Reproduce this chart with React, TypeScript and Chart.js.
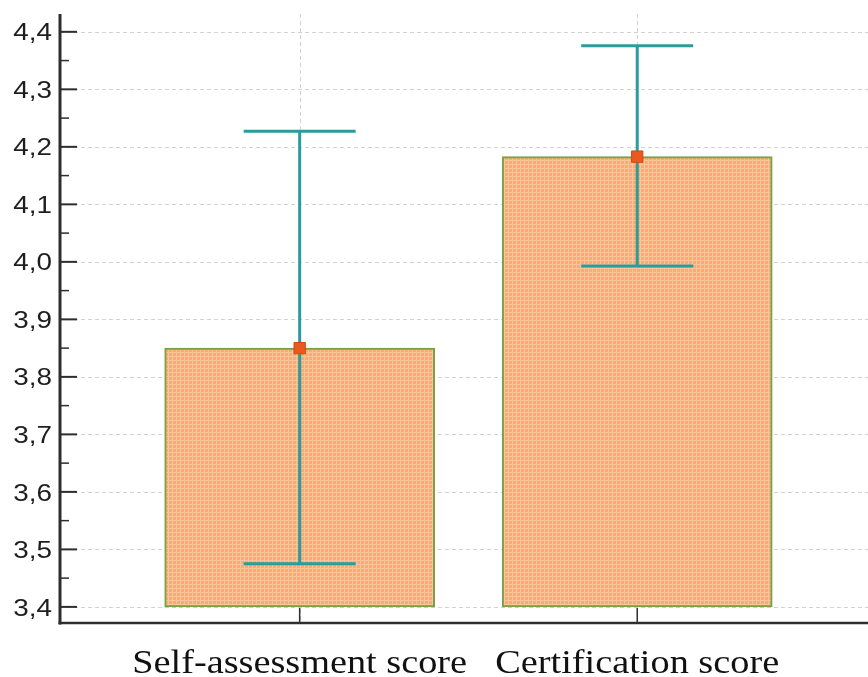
import { useEffect, useRef } from 'react';
import { Chart, registerables } from 'chart.js';

Chart.register(...registerables);

// Categories and their positions on the x scale
const categories = ['Self-assessment score', 'Certification score'];
const positions = [1, 2];

// Mean score, and upper / lower limits of the interval
const means = [3.85, 4.183];
const upper = [4.227, 4.376];
const lower = [3.475, 3.993];

// Bars rise from this baseline
const barBase = 3.4;

// Axis ranges and ticks
const xRange = [0.29, 2.657];
const yRange = [3.372, 4.431];
const yTicks = [3.4, 3.5, 3.6, 3.7, 3.8, 3.9, 4.0, 4.1, 4.2, 4.3, 4.4];
const yMinorTicks = [3.45, 3.55, 3.65, 3.75, 3.85, 3.95, 4.05, 4.15, 4.25, 4.35];

const AXIS = '#2e2e2e';
const GRID = '#d2d2d2';
const TEAL = '#2b9c9c';
const TEXT_STRETCH = 1.16;

function makePattern(): CanvasPattern | string {
  const c = document.createElement('canvas');
  c.width = 4;
  c.height = 4;
  const g = c.getContext('2d');
  if (!g) return '#f9b07e';
  g.fillStyle = '#f8ab75';
  g.fillRect(0, 0, 4, 4);
  g.fillStyle = '#fcc49a';
  g.fillRect(0, 0, 4, 1);
  g.fillRect(0, 0, 1, 4);
  return g.createPattern(c, 'repeat') || '#f9b07e';
}

function stretchedText(
  ctx: CanvasRenderingContext2D,
  text: string,
  x: number,
  y: number,
  align: CanvasTextAlign,
  baseline: CanvasTextBaseline
) {
  ctx.save();
  ctx.translate(x, y);
  ctx.scale(TEXT_STRETCH, 1);
  ctx.textAlign = align;
  ctx.textBaseline = baseline;
  ctx.fillText(text, 0, 0);
  ctx.restore();
}

const framePlugin = {
  id: 'frame',
  beforeDatasetsDraw(chart: any) {
    const { ctx, chartArea: a, scales } = chart;
    const xs = scales.x;
    const ys = scales.y;
    ctx.save();
    ctx.strokeStyle = GRID;
    ctx.lineWidth = 1;
    ctx.setLineDash([4, 3]);
    yTicks.forEach((v) => {
      const y = Math.round(ys.getPixelForValue(v)) + 0.5;
      ctx.beginPath();
      ctx.moveTo(a.left, y);
      ctx.lineTo(chart.width, y);
      ctx.stroke();
    });
    positions.forEach((p) => {
      const x = Math.round(xs.getPixelForValue(p)) + 0.5;
      ctx.beginPath();
      ctx.moveTo(x, a.top);
      ctx.lineTo(x, a.bottom);
      ctx.stroke();
    });
    ctx.restore();
  },
  afterDatasetDraw(chart: any, args: any) {
    if (args.index !== 0) return;
    const { ctx, scales } = chart;
    const xs = scales.x;
    const ys = scales.y;
    ctx.save();
    ctx.strokeStyle = TEAL;
    ctx.lineWidth = 3;
    positions.forEach((p, i) => {
      const x = xs.getPixelForValue(p);
      const yT = ys.getPixelForValue(upper[i]);
      const yB = ys.getPixelForValue(lower[i]);
      const cap = 56;
      ctx.beginPath();
      ctx.moveTo(x, yT);
      ctx.lineTo(x, yB);
      ctx.moveTo(x - cap, yT);
      ctx.lineTo(x + cap, yT);
      ctx.moveTo(x - cap, yB);
      ctx.lineTo(x + cap, yB);
      ctx.stroke();
    });
    ctx.restore();
  },
  afterDraw(chart: any) {
    const { ctx, chartArea: a, scales } = chart;
    const xs = scales.x;
    const ys = scales.y;
    ctx.save();
    ctx.strokeStyle = AXIS;
    ctx.fillStyle = AXIS;

    // axis lines
    ctx.lineWidth = 3;
    ctx.beginPath();
    ctx.moveTo(a.left, a.top);
    ctx.lineTo(a.left, a.bottom + 1.5);
    ctx.stroke();
    ctx.lineWidth = 2.5;
    ctx.beginPath();
    ctx.moveTo(a.left - 1.5, a.bottom);
    ctx.lineTo(chart.width, a.bottom);
    ctx.stroke();

    // y ticks, major and minor, pointing inward
    ctx.lineWidth = 2;
    yTicks.forEach((v) => {
      const y = ys.getPixelForValue(v);
      ctx.beginPath();
      ctx.moveTo(a.left, y);
      ctx.lineTo(a.left + 17, y);
      ctx.stroke();
    });
    ctx.lineWidth = 1.5;
    yMinorTicks.forEach((v) => {
      const y = ys.getPixelForValue(v);
      ctx.beginPath();
      ctx.moveTo(a.left, y);
      ctx.lineTo(a.left + 9, y);
      ctx.stroke();
    });

    // x ticks pointing inward
    ctx.lineWidth = 1.5;
    positions.forEach((p) => {
      const x = xs.getPixelForValue(p);
      ctx.beginPath();
      ctx.moveTo(x, a.bottom);
      ctx.lineTo(x, a.bottom - 15);
      ctx.stroke();
    });

    // y labels
    ctx.fillStyle = '#1e1e1e';
    ctx.font = '24px "Liberation Sans", Arial, sans-serif';
    yTicks.forEach((v) => {
      const y = ys.getPixelForValue(v);
      stretchedText(ctx, v.toFixed(1).replace('.', ','), a.left - 8, y + 2, 'right', 'middle');
    });

    // x labels
    ctx.fillStyle = '#111111';
    ctx.font = '33px "Liberation Serif", "Times New Roman", serif';
    positions.forEach((p, i) => {
      const x = xs.getPixelForValue(p);
      stretchedText(ctx, categories[i], x, a.bottom + 50, 'center', 'alphabetic');
    });
    ctx.restore();
  },
};

export default function App() {
  const canvasRef = useRef<HTMLCanvasElement | null>(null);

  useEffect(() => {
    document.body.style.margin = '0';
    const canvas = canvasRef.current;
    if (!canvas) return;
    const pattern = makePattern();

    const chart = new Chart(canvas, {
      type: 'bar',
      data: {
        datasets: [
          {
            type: 'bar',
            data: positions.map((x, i) => ({ x, y: [barBase, means[i]] })) as any,
            backgroundColor: pattern as any,
            borderColor: '#78a046',
            borderWidth: 2,
            borderSkipped: false,
            barThickness: 270,
            order: 2,
          },
          {
            type: 'scatter',
            data: positions.map((x, i) => ({ x, y: means[i] })),
            pointStyle: 'rect',
            pointRadius: 8,
            backgroundColor: '#ea5a1e',
            borderColor: '#cf4a12',
            borderWidth: 1,
            order: 1,
          } as any,
        ],
      },
      options: {
        responsive: false,
        animation: false,
        layout: { padding: { top: 14, right: 0, bottom: 0, left: 0 } },
        plugins: {
          legend: { display: false },
          tooltip: { enabled: false },
        },
        scales: {
          x: {
            type: 'linear',
            offset: false,
            min: xRange[0],
            max: xRange[1],
            afterBuildTicks(s: any) {
              s.ticks = positions.map((v) => ({ value: v }));
            },
            afterFit(s: any) {
              s.height = 54;
            },
            ticks: { display: false },
            grid: { display: false, offset: false },
            border: { display: false },
          },
          y: {
            type: 'linear',
            min: yRange[0],
            max: yRange[1],
            afterBuildTicks(s: any) {
              s.ticks = yTicks.map((v) => ({ value: v }));
            },
            afterFit(s: any) {
              s.width = 60;
            },
            ticks: { display: false },
            grid: { display: false },
            border: { display: false },
          },
        },
      } as any,
      plugins: [framePlugin],
    });

    return () => chart.destroy();
  }, []);

  return (
    <div style={{ width: 868, height: 677, background: '#ffffff' }}>
      <canvas ref={canvasRef} width={868} height={677} style={{ display: 'block' }} />
    </div>
  );
}
